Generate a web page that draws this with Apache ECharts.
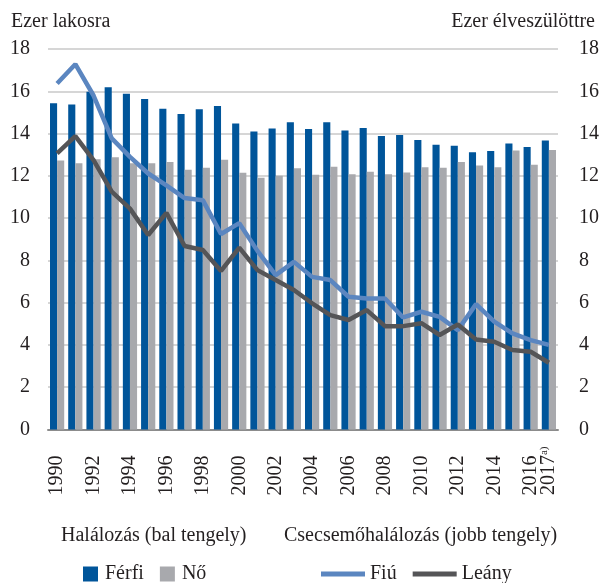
<!DOCTYPE html>
<html>
<head>
<meta charset="utf-8">
<script src="https://cdn.jsdelivr.net/npm/echarts@6/dist/echarts.min.js"></script>
<style>
    html, body { margin: 0; padding: 0; background: #fff; }
    #main { width: 603px; height: 583px; }
</style>
</head>
<body>
<div id="main"></div>
<script>
// évek
const years = ['1990', '1991', '1992', '1993', '1994', '1995', '1996', '1997', '1998', '1999',
    '2000', '2001', '2002', '2003', '2004', '2005', '2006', '2007', '2008', '2009',
    '2010', '2011', '2012', '2013', '2014', '2015', '2016', '2017'];
// halálozás, ezer lakosra (bal tengely)
const ferfi = [15.43, 15.38, 15.98, 16.19, 15.88, 15.63, 15.17, 14.92, 15.15, 15.3,
    14.48, 14.1, 14.24, 14.53, 14.21, 14.54, 14.15, 14.26, 13.89, 13.93,
    13.69, 13.47, 13.42, 13.12, 13.17, 13.53, 13.36, 13.67];
const no = [12.72, 12.59, 12.79, 12.88, 12.6, 12.6, 12.65, 12.29, 12.38, 12.76,
    12.14, 11.91, 12.0, 12.36, 12.05, 12.43, 12.08, 12.19, 12.07, 12.16,
    12.41, 12.38, 12.65, 12.49, 12.41, 13.2, 12.52, 13.22];
// csecsemőhalálozás, ezer élveszülöttre (jobb tengely)
const fiu = [16.37, 17.28, 15.8, 13.77, 12.9, 12.11, 11.55, 10.95, 10.85, 9.25,
    9.76, 8.45, 7.3, 7.93, 7.22, 7.07, 6.28, 6.2, 6.2, 5.3,
    5.57, 5.33, 4.7, 5.93, 5.1, 4.55, 4.23, 4.0];
const leany = [13.06, 13.88, 12.74, 11.25, 10.45, 9.2, 10.25, 8.68, 8.49, 7.5,
    8.6, 7.54, 7.07, 6.6, 5.97, 5.41, 5.18, 5.65, 4.89, 4.89,
    5.03, 4.47, 4.97, 4.26, 4.15, 3.76, 3.68, 3.16];
const yTicks = [0, 2, 4, 6, 8, 10, 12, 14, 16, 18];
const lastYear = '2017';

const font = 'Liberation Serif';
const txt = { fontFamily: font, fontSize: 20, color: '#231f20' };

let myChart = echarts.init(document.getElementById('main'));
let option = {
    backgroundColor: '#fff',
    animation: false,
    title: [
        { text: 'Ezer lakosra', left: 6, top: 7, textStyle: { ...txt, fontWeight: 'normal' } },
        { text: 'Ezer élveszülöttre', right: 3, top: 7, textStyle: { ...txt, fontWeight: 'normal' } },
        { text: 'Halálozás (bal tengely)', left: 56, top: 521, textStyle: { ...txt, fontWeight: 'normal' } },
        { text: 'Csecsemőhalálozás (jobb tengely)', left: 279, top: 521, textStyle: { ...txt, fontWeight: 'normal' } }
    ],
    legend: [
        {
            data: ['Férfi', 'Nő'],
            left: 78, top: 559,
            icon: 'rect', itemWidth: 15, itemHeight: 15, itemGap: 16,
            textStyle: { ...txt, padding: [0, 0, 0, 2] }
        },
        {
            data: ['Fiú', 'Leány'],
            left: 316, top: 559,
            icon: 'rect', itemWidth: 44, itemHeight: 5, itemGap: 16,
            textStyle: { ...txt }
        }
    ],
    grid: { left: 48, right: 45, top: 49, bottom: 153.5 },
    xAxis: [
        {
            type: 'category',
            data: years,
            axisLine: { lineStyle: { color: '#8c8c8c', width: 2 } },
            axisTick: { interval: 0, length: 10, lineStyle: { color: '#8c8c8c', width: 2 } },
            axisLabel: {
                ...txt,
                rotate: 90,
                margin: 26,
                interval: (i, v) => i % 2 === 0 && v !== lastYear
            },
            splitLine: { show: false }
        },
        {
            // csak a 2017-es felirat, külön tengelyen, hogy ne takarja el a 2016-ot
            type: 'category',
            data: years,
            position: 'bottom',
            axisLine: { show: false },
            axisTick: { show: false },
            axisLabel: {
                ...txt,
                rotate: 90,
                margin: 17,
                showMaxLabel: true,
                interval: (i, v) => v === lastYear,
                formatter: v => v + '{a|a)}',
                rich: { a: { fontFamily: font, fontSize: 11, color: '#231f20', verticalAlign: 'top', padding: [0, 0, 10, 0] } }
            },
            splitLine: { show: false }
        }
    ],
    yAxis: [
        {
            type: 'value', min: yTicks[0], max: yTicks[yTicks.length - 1], interval: 2,
            axisLine: { show: false }, axisTick: { show: false },
            axisLabel: { ...txt, margin: 18 },
            splitLine: { lineStyle: { color: '#c9c9c9', width: 1.5 } }
        },
        {
            type: 'value', min: yTicks[0], max: yTicks[yTicks.length - 1], interval: 2,
            axisLine: { show: false }, axisTick: { show: false },
            axisLabel: { ...txt, margin: 21 },
            splitLine: { show: false }
        }
    ],
    series: [
        {
            name: 'Férfi', type: 'bar', data: ferfi, yAxisIndex: 0,
            barGap: '0%', barCategoryGap: '22%',
            itemStyle: { color: '#00559a' }
        },
        {
            name: 'Nő', type: 'bar', data: no, yAxisIndex: 0,
            itemStyle: { color: '#a8a9ad' }
        },
        {
            name: 'Fiú', type: 'line', data: fiu, yAxisIndex: 1,
            showSymbol: false, symbol: 'none',
            lineStyle: { color: '#5b86c0', width: 4.5 },
            itemStyle: { color: '#5b86c0' }
        },
        {
            name: 'Leány', type: 'line', data: leany, yAxisIndex: 1,
            showSymbol: false, symbol: 'none',
            lineStyle: { color: '#555557', width: 4.5 },
            itemStyle: { color: '#555557' }
        }
    ]
};
option && myChart.setOption(option);
</script>
</body>
</html>
